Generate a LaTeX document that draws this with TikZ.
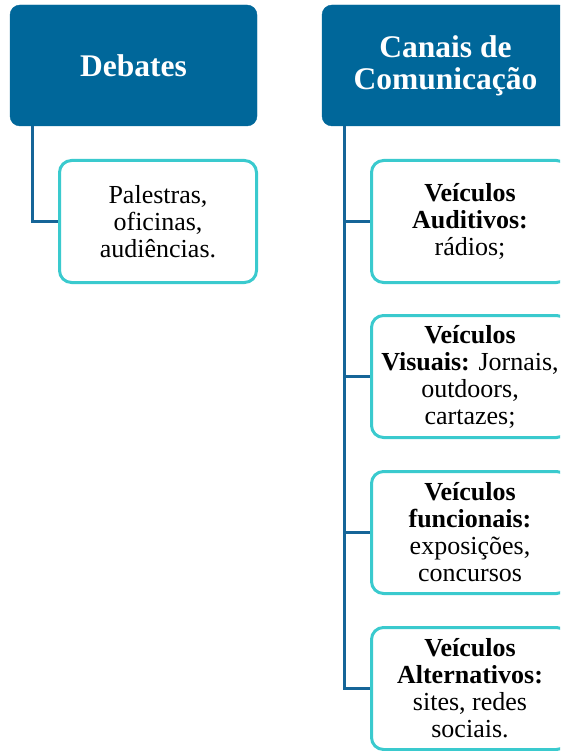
\documentclass[tikz,border=0pt]{standalone}
\usepackage{fontspec}
\setmainfont{Liberation Serif}
\usetikzlibrary{positioning}
\definecolor{headblue}{RGB}{0,103,154}
\definecolor{linkblue}{RGB}{22,101,152}
\definecolor{boxcyan}{RGB}{58,202,206}
\tikzset{
  head/.style={draw=headblue,fill=headblue,rounded corners=10pt,
    minimum width=247pt,minimum height=121pt,inner sep=0pt,align=center,
    text=white,font=\bfseries\fontsize{31.5}{32}\selectfont},
  item/.style={draw=boxcyan,line width=3pt,fill=white,rounded corners=12pt,
    minimum width=197pt,minimum height=122pt,inner sep=0pt,align=center,
    font=\fontsize{26}{27}\selectfont},
  link/.style={draw=linkblue,line width=3pt}}

\begin{document}
\begin{tikzpicture}[x=1pt,y=-1pt]
  \useasboundingbox (0,0) rectangle (560,751);
  \clip (0,0) rectangle (560,751);
  \node [head] (debates) at (133.5,65.5) {Debates};
  \node [head] (canais) at (445.5,65.5) {Canais de\\Comunicação};
  \node [item] (palestras) at (158,221.5) {Palestras,\\oficinas,\\audiências.};
  \node [item] (auditivos) at (470,221.5)
    {\textbf{Veículos}\\\textbf{Auditivos:}\\rádios;};
  \node [item] (visuais) at (470,376.5)
    {\textbf{Veículos}\\\textbf{Visuais:} Jornais,\\outdoors,\\cartazes;};
  \node [item] (funcionais) at (470,532.5)
    {\textbf{Veículos}\\\textbf{funcionais:}\\exposições,\\concursos};
  \node [item] (alternativos) at (470,688.5)
    {\textbf{Veículos}\\\textbf{Alternativos:}\\sites, redes\\sociais.};
  \draw [link] ([xshift=23pt]debates.south west) |- (palestras.west);
  \foreach \child in {auditivos,visuais,funcionais,alternativos}
    \draw [link] ([xshift=23pt]canais.south west) |- (\child.west);
\end{tikzpicture}
\end{document}
